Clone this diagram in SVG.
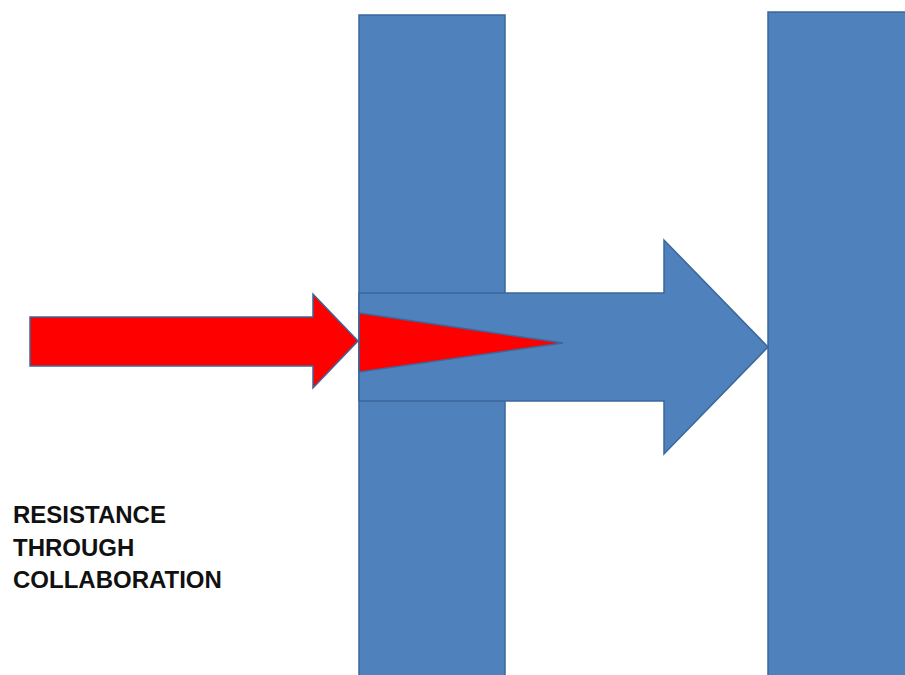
<svg xmlns="http://www.w3.org/2000/svg" width="905" height="675" viewBox="0 0 905 675">
<style>
.blue{fill:#4f81bd;stroke:#3b679a;stroke-width:1.5;stroke-linejoin:miter}
.red{fill:#ff0000;stroke:#3b679a;stroke-width:1.5;stroke-linejoin:miter}
.lbl{font-family:"Liberation Sans",Arial,sans-serif;font-weight:bold;font-size:24px;fill:#111}
</style>
<rect width="905" height="675" fill="#ffffff"/>
<g id="left-bar"><rect class="blue" x="359" y="15" width="146" height="670"/></g>
<g id="right-bar"><rect class="blue" x="768" y="12" width="150" height="680"/></g>
<g id="connectors">
<g id="blue-arrow"><polygon class="blue" points="359,293 664,293 664,240 768,347 664,454 664,401 359,401"/></g>
<g id="red-wedge"><polygon class="red" points="359,313 563,343 359,372"/></g>
<g id="red-arrow"><polygon class="red" points="30,317 313,317 313,294 358,341 313,388 313,366 30,366"/></g>
</g>
<g id="label">
<text class="lbl" x="13" y="523">RESISTANCE</text>
<text class="lbl" x="13" y="555.5">THROUGH</text>
<text class="lbl" x="13" y="588">COLLABORATION</text>
</g>
</svg>
